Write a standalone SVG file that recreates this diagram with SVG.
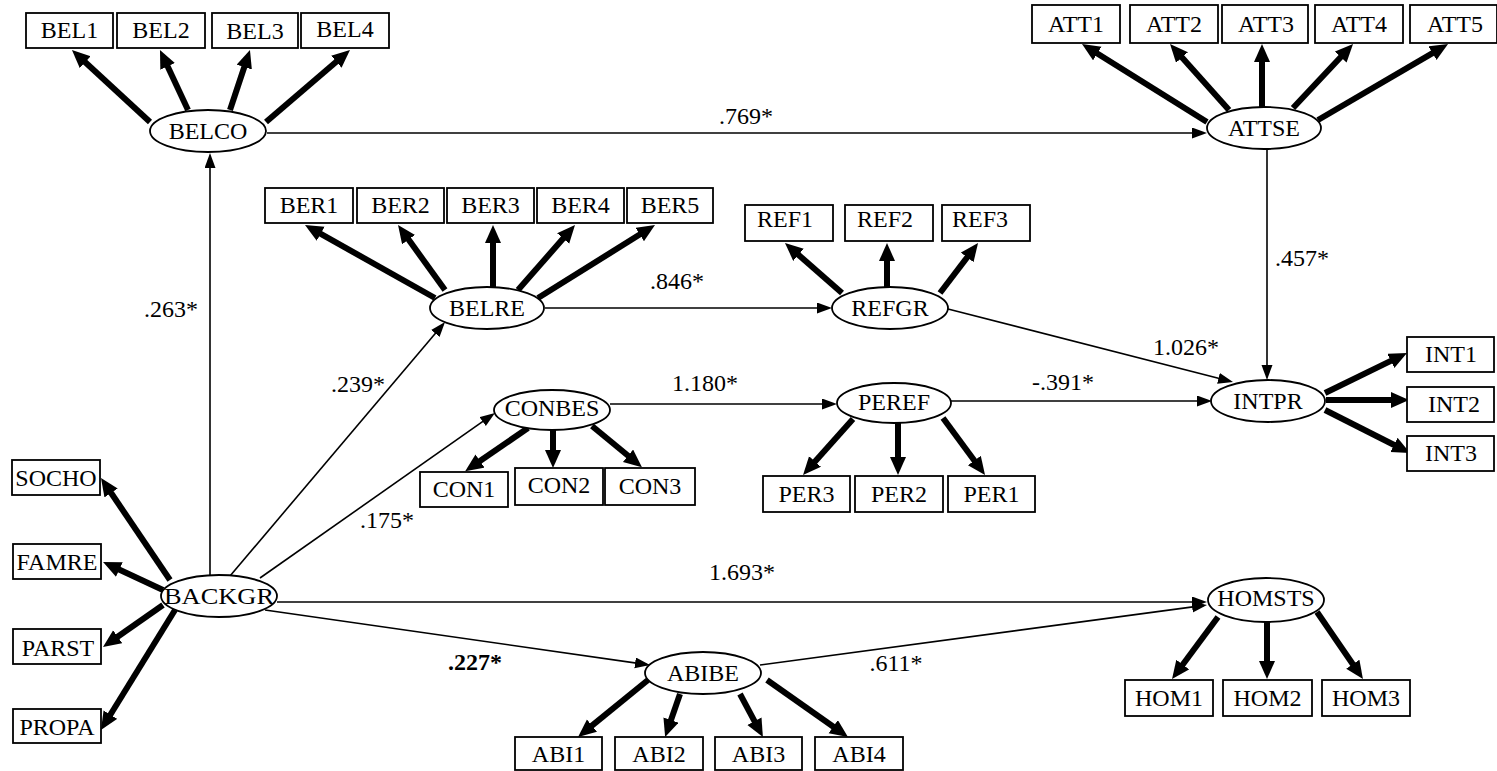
<svg xmlns="http://www.w3.org/2000/svg" width="1497" height="771" viewBox="0 0 1497 771" font-family="Liberation Serif, DejaVu Serif, serif">
<style>
text{font-family:'Liberation Serif','DejaVu Serif',serif}
.t{font-size:24px;fill:#000;text-anchor:middle}
.b{fill:#fff;stroke:#000;stroke-width:1.8}
.e{fill:#fff;stroke:#000;stroke-width:1.8}
.k{stroke:#000;stroke-width:6;fill:none;marker-end:url(#ah)}
.n{stroke:#000;stroke-width:1.6;fill:none;marker-end:url(#as)}
</style>
<defs>
<marker id="ah" markerUnits="userSpaceOnUse" markerWidth="20" markerHeight="18" refX="8" refY="8" orient="auto"><path d="M0,0 L18,8 L0,16 z" fill="#000"/></marker>
<marker id="as" markerUnits="userSpaceOnUse" markerWidth="17" markerHeight="13" refX="12" refY="5.5" orient="auto"><path d="M0,0 L15,5.5 L0,11 z" fill="#000"/></marker>
</defs>
<rect width="1497" height="771" fill="#fff"/>
<g id="connectors">
<line class="n" x1="210" y1="576" x2="210" y2="156"/>
<line class="n" x1="267" y1="133" x2="1204" y2="133"/>
<line class="n" x1="1267" y1="149" x2="1267" y2="377"/>
<line class="n" x1="230" y1="576" x2="443.1" y2="324.3"/>
<line class="n" x1="545" y1="308" x2="829" y2="308"/>
<line class="n" x1="948" y1="309" x2="1230.1" y2="381.3"/>
<line class="n" x1="260" y1="578" x2="492.5" y2="414.7"/>
<line class="n" x1="610" y1="404" x2="834" y2="404"/>
<line class="n" x1="951" y1="401" x2="1209" y2="401"/>
<line class="n" x1="277" y1="602" x2="1204" y2="602"/>
<line class="n" x1="265" y1="610" x2="647" y2="664.6"/>
<line class="n" x1="760" y1="665" x2="1204" y2="605.4"/>
<line class="k" x1="150" y1="122" x2="79.3" y2="56.8"/>
<line class="k" x1="188" y1="110" x2="164.2" y2="59.1"/>
<line class="k" x1="230" y1="110" x2="246.8" y2="59.5"/>
<line class="k" x1="266" y1="122" x2="342.4" y2="56.5"/>
<line class="k" x1="1207" y1="122" x2="1090.5" y2="49.3"/>
<line class="k" x1="1229" y1="110" x2="1176.7" y2="51.5"/>
<line class="k" x1="1262" y1="107" x2="1262" y2="54"/>
<line class="k" x1="1293" y1="108" x2="1346.2" y2="51.3"/>
<line class="k" x1="1318" y1="120" x2="1439.4" y2="49.1"/>
<line class="k" x1="435" y1="298" x2="313.7" y2="229.9"/>
<line class="k" x1="445" y1="290" x2="403.9" y2="233.1"/>
<line class="k" x1="493" y1="287" x2="493" y2="235"/>
<line class="k" x1="518" y1="290" x2="568.4" y2="232.5"/>
<line class="k" x1="538" y1="298" x2="646.5" y2="230.3"/>
<line class="k" x1="842" y1="293" x2="792.5" y2="249.6"/>
<line class="k" x1="887" y1="287" x2="887" y2="253"/>
<line class="k" x1="940" y1="293" x2="972" y2="251"/>
<line class="k" x1="1325" y1="393" x2="1398" y2="357.4"/>
<line class="k" x1="1326" y1="400" x2="1399" y2="400"/>
<line class="k" x1="1325" y1="410" x2="1401.1" y2="448.5"/>
<line class="k" x1="170" y1="580" x2="106.6" y2="486.3"/>
<line class="k" x1="163" y1="590" x2="112.1" y2="566.2"/>
<line class="k" x1="163" y1="605" x2="111.2" y2="641.3"/>
<line class="k" x1="175" y1="610" x2="106.2" y2="721.5"/>
<line class="k" x1="528" y1="428" x2="473.4" y2="465.5"/>
<line class="k" x1="553" y1="429" x2="553" y2="458"/>
<line class="k" x1="592" y1="426" x2="634.2" y2="460.8"/>
<line class="k" x1="853" y1="419" x2="809.7" y2="467.5"/>
<line class="k" x1="898" y1="423" x2="898" y2="465"/>
<line class="k" x1="943" y1="418" x2="979.1" y2="467"/>
<line class="k" x1="648" y1="680" x2="585.8" y2="730.7"/>
<line class="k" x1="680" y1="694" x2="668.4" y2="727.6"/>
<line class="k" x1="740" y1="694" x2="758.2" y2="728.2"/>
<line class="k" x1="767" y1="680" x2="839.8" y2="731.2"/>
<line class="k" x1="1218" y1="617" x2="1178" y2="671"/>
<line class="k" x1="1267" y1="621" x2="1267" y2="669"/>
<line class="k" x1="1317" y1="612" x2="1357.3" y2="670.8"/>
</g>
<g id="labels">
<text class="t" x="746" y="124">.769*</text>
<text class="t" x="171" y="317">.263*</text>
<text class="t" x="677" y="289">.846*</text>
<text class="t" x="1302" y="266">.457*</text>
<text class="t" x="1186" y="355">1.026*</text>
<text class="t" x="705" y="391">1.180*</text>
<text class="t" x="1063" y="390">-.391*</text>
<text class="t" x="358" y="392">.239*</text>
<text class="t" x="387" y="528">.175*</text>
<text class="t" x="742" y="580">1.693*</text>
<text class="t" x="475" y="670" font-weight="bold">.227*</text>
<text class="t" x="896" y="671">.611*</text>
</g>
<g id="BELCO"><ellipse class="e" cx="208" cy="131" rx="58" ry="21"/><text class="t" x="208" y="139">BELCO</text></g>
<g id="ATTSE"><ellipse class="e" cx="1264" cy="128" rx="57" ry="21"/><text class="t" x="1264" y="136">ATTSE</text></g>
<g id="BELRE"><ellipse class="e" cx="487" cy="308" rx="57" ry="21"/><text class="t" x="487" y="316">BELRE</text></g>
<g id="REFGR"><ellipse class="e" cx="890" cy="308" rx="58" ry="21"/><text class="t" x="890" y="316">REFGR</text></g>
<g id="INTPR"><ellipse class="e" cx="1268" cy="401" rx="57" ry="21"/><text class="t" x="1268" y="409">INTPR</text></g>
<g id="CONBES"><ellipse class="e" cx="552" cy="410" rx="58" ry="20"/><text class="t" x="552" y="416">CONBES</text></g>
<g id="PEREF"><ellipse class="e" cx="894" cy="403" rx="57" ry="20"/><text class="t" x="894" y="410">PEREF</text></g>
<g id="BACKGR"><ellipse class="e" cx="219" cy="596" rx="58" ry="21"/><text class="t" x="219" y="604" textLength="110" lengthAdjust="spacingAndGlyphs">BACKGR</text></g>
<g id="ABIBE"><ellipse class="e" cx="703" cy="673" rx="58" ry="21"/><text class="t" x="703" y="681">ABIBE</text></g>
<g id="HOMSTS"><ellipse class="e" cx="1266" cy="600" rx="58" ry="22"/><text class="t" x="1266" y="606">HOMSTS</text></g>
<g id="BEL1"><rect class="b" x="26" y="13" width="87" height="35"/><text class="t" x="69.5" y="38">BEL1</text></g>
<g id="BEL2"><rect class="b" x="117" y="13" width="88" height="35"/><text class="t" x="161" y="38">BEL2</text></g>
<g id="BEL3"><rect class="b" x="212" y="13" width="86" height="35"/><text class="t" x="255" y="39">BEL3</text></g>
<g id="BEL4"><rect class="b" x="301" y="13" width="88" height="35"/><text class="t" x="345" y="37">BEL4</text></g>
<g id="ATT1"><rect class="b" x="1032" y="5" width="88" height="38"/><text class="t" x="1076" y="32">ATT1</text></g>
<g id="ATT2"><rect class="b" x="1130" y="5" width="88" height="38"/><text class="t" x="1174" y="32">ATT2</text></g>
<g id="ATT3"><rect class="b" x="1222" y="5" width="86" height="38"/><text class="t" x="1266" y="32">ATT3</text></g>
<g id="ATT4"><rect class="b" x="1315" y="5" width="88" height="38"/><text class="t" x="1359" y="32">ATT4</text></g>
<g id="ATT5"><rect class="b" x="1410" y="5" width="87" height="38"/><text class="t" x="1455" y="32">ATT5</text></g>
<g id="BER1"><rect class="b" x="265" y="188" width="88" height="35"/><text class="t" x="309" y="213">BER1</text></g>
<g id="BER2"><rect class="b" x="357" y="188" width="87" height="35"/><text class="t" x="400.5" y="213">BER2</text></g>
<g id="BER3"><rect class="b" x="447" y="188" width="87" height="35"/><text class="t" x="490.5" y="213">BER3</text></g>
<g id="BER4"><rect class="b" x="537" y="188" width="87" height="35"/><text class="t" x="580.5" y="213">BER4</text></g>
<g id="BER5"><rect class="b" x="627" y="188" width="86" height="35"/><text class="t" x="670" y="213">BER5</text></g>
<g id="REF1"><rect class="b" x="745" y="205" width="88" height="36"/><text class="t" x="785" y="227">REF1</text></g>
<g id="REF2"><rect class="b" x="845" y="205" width="88" height="36"/><text class="t" x="885" y="227">REF2</text></g>
<g id="REF3"><rect class="b" x="942" y="205" width="88" height="36"/><text class="t" x="980" y="227">REF3</text></g>
<g id="INT1"><rect class="b" x="1407" y="337" width="87" height="35"/><text class="t" x="1451" y="362">INT1</text></g>
<g id="INT2"><rect class="b" x="1407" y="387" width="87" height="35"/><text class="t" x="1454" y="412">INT2</text></g>
<g id="INT3"><rect class="b" x="1407" y="436" width="87" height="35"/><text class="t" x="1451" y="461">INT3</text></g>
<g id="SOCHO"><rect class="b" x="12" y="460" width="88" height="35"/><text class="t" x="56" y="486">SOCHO</text></g>
<g id="FAMRE"><rect class="b" x="13" y="544" width="88" height="35"/><text class="t" x="57" y="570">FAMRE</text></g>
<g id="PARST"><rect class="b" x="13" y="629" width="88" height="35"/><text class="t" x="58" y="656">PARST</text></g>
<g id="PROPA"><rect class="b" x="13" y="709" width="88" height="34"/><text class="t" x="57" y="735">PROPA</text></g>
<g id="CON1"><rect class="b" x="420" y="472" width="88" height="35"/><text class="t" x="464" y="497">CON1</text></g>
<g id="CON2"><rect class="b" x="515" y="468" width="88" height="37"/><text class="t" x="559" y="493">CON2</text></g>
<g id="CON3"><rect class="b" x="605" y="468" width="90" height="37"/><text class="t" x="650" y="494">CON3</text></g>
<g id="PER3"><rect class="b" x="763" y="476" width="87" height="36"/><text class="t" x="806.5" y="502">PER3</text></g>
<g id="PER2"><rect class="b" x="855" y="476" width="88" height="36"/><text class="t" x="899" y="502">PER2</text></g>
<g id="PER1"><rect class="b" x="948" y="476" width="87" height="36"/><text class="t" x="991.5" y="502">PER1</text></g>
<g id="ABI1"><rect class="b" x="515" y="737" width="87" height="33"/><text class="t" x="558.5" y="762">ABI1</text></g>
<g id="ABI2"><rect class="b" x="615" y="737" width="88" height="33"/><text class="t" x="659" y="762">ABI2</text></g>
<g id="ABI3"><rect class="b" x="715" y="737" width="87" height="33"/><text class="t" x="758.5" y="762">ABI3</text></g>
<g id="ABI4"><rect class="b" x="815" y="737" width="88" height="33"/><text class="t" x="859" y="762">ABI4</text></g>
<g id="HOM1"><rect class="b" x="1125" y="680" width="88" height="36"/><text class="t" x="1169" y="706">HOM1</text></g>
<g id="HOM2"><rect class="b" x="1223" y="680" width="89" height="36"/><text class="t" x="1267.5" y="706">HOM2</text></g>
<g id="HOM3"><rect class="b" x="1322" y="680" width="88" height="36"/><text class="t" x="1366" y="706">HOM3</text></g>
</svg>
